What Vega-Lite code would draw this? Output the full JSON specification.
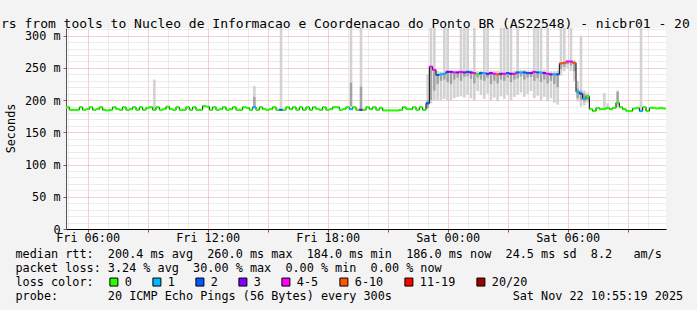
{
"$schema": "https://vega.github.io/schema/vega-lite/v6.json",
"width": 600, "height": 201,
"autosize": "none",
"padding": {"left": 66, "top": 28, "right": 31, "bottom": 81},
"background": "#f3f3f3",
"config": {"view": {"fill": "white", "stroke": null}, "font": "DejaVu Sans Mono"},
"title": {"text": "rs from tools to Nucleo de Informacao e Coordenacao do Ponto BR (AS22548) - nicbr01 - 20", "anchor": "start", "frame": "group", "dx": -65, "dy": 21, "offset": 4, "font": "DejaVu Sans Mono", "fontSize": 13, "fontWeight": "normal", "color": "#000", "baseline": "alphabetic"},
"datasets": {
"med": [
{"t":"2025-11-21T05:00","v":189,"l":"0"},{"t":"2025-11-21T05:10","v":185,"l":"0"},{"t":"2025-11-21T05:20","v":185,"l":"0"},{"t":"2025-11-21T05:30","v":185,"l":"0"},{"t":"2025-11-21T05:40","v":189,"l":"0"},{"t":"2025-11-21T05:50","v":185,"l":"0"},
{"t":"2025-11-21T06:00","v":186,"l":"0"},{"t":"2025-11-21T06:10","v":189,"l":"0"},{"t":"2025-11-21T06:20","v":185,"l":"0"},{"t":"2025-11-21T06:30","v":186,"l":"0"},{"t":"2025-11-21T06:40","v":189,"l":"0"},{"t":"2025-11-21T06:50","v":185,"l":"0"},
{"t":"2025-11-21T07:00","v":184,"l":"0"},{"t":"2025-11-21T07:10","v":185,"l":"0"},{"t":"2025-11-21T07:20","v":189,"l":"0"},{"t":"2025-11-21T07:30","v":186,"l":"0"},{"t":"2025-11-21T07:40","v":185,"l":"0"},{"t":"2025-11-21T07:50","v":189,"l":"0"},
{"t":"2025-11-21T08:00","v":185,"l":"0"},{"t":"2025-11-21T08:10","v":186,"l":"0"},{"t":"2025-11-21T08:20","v":189,"l":"0"},{"t":"2025-11-21T08:30","v":185,"l":"0"},{"t":"2025-11-21T08:40","v":189,"l":"0"},{"t":"2025-11-21T08:50","v":185,"l":"0"},
{"t":"2025-11-21T09:00","v":188,"l":"0"},{"t":"2025-11-21T09:10","v":189,"l":"0"},{"t":"2025-11-21T09:20","v":185,"l":"0"},{"t":"2025-11-21T09:30","v":189,"l":"0"},{"t":"2025-11-21T09:40","v":185,"l":"0"},{"t":"2025-11-21T09:50","v":186,"l":"0"},
{"t":"2025-11-21T10:00","v":190,"l":"0"},{"t":"2025-11-21T10:10","v":186,"l":"0"},{"t":"2025-11-21T10:20","v":185,"l":"0"},{"t":"2025-11-21T10:30","v":189,"l":"0"},{"t":"2025-11-21T10:40","v":185,"l":"0"},{"t":"2025-11-21T10:50","v":185,"l":"0"},
{"t":"2025-11-21T11:00","v":189,"l":"0"},{"t":"2025-11-21T11:10","v":185,"l":"0"},{"t":"2025-11-21T11:20","v":189,"l":"0"},{"t":"2025-11-21T11:30","v":185,"l":"0"},{"t":"2025-11-21T11:40","v":185,"l":"0"},{"t":"2025-11-21T11:50","v":191,"l":"0"},
{"t":"2025-11-21T12:00","v":190,"l":"0"},{"t":"2025-11-21T12:10","v":185,"l":"0"},{"t":"2025-11-21T12:20","v":189,"l":"0"},{"t":"2025-11-21T12:30","v":185,"l":"0"},{"t":"2025-11-21T12:40","v":186,"l":"0"},{"t":"2025-11-21T12:50","v":189,"l":"0"},
{"t":"2025-11-21T13:00","v":185,"l":"0"},{"t":"2025-11-21T13:10","v":186,"l":"0"},{"t":"2025-11-21T13:20","v":189,"l":"0"},{"t":"2025-11-21T13:30","v":185,"l":"0"},{"t":"2025-11-21T13:40","v":185,"l":"0"},{"t":"2025-11-21T13:50","v":189,"l":"0"},
{"t":"2025-11-21T14:00","v":188,"l":"0"},{"t":"2025-11-21T14:10","v":185,"l":"0"},{"t":"2025-11-21T14:20","v":189,"l":"1"},{"t":"2025-11-21T14:30","v":185,"l":"0"},{"t":"2025-11-21T14:40","v":189,"l":"0"},{"t":"2025-11-21T14:50","v":186,"l":"0"},
{"t":"2025-11-21T15:00","v":185,"l":"0"},{"t":"2025-11-21T15:10","v":186,"l":"0"},{"t":"2025-11-21T15:20","v":189,"l":"0"},{"t":"2025-11-21T15:30","v":185,"l":"0"},{"t":"2025-11-21T15:40","v":185,"l":"2"},{"t":"2025-11-21T15:50","v":185,"l":"0"},
{"t":"2025-11-21T16:00","v":189,"l":"0"},{"t":"2025-11-21T16:10","v":186,"l":"0"},{"t":"2025-11-21T16:20","v":189,"l":"0"},{"t":"2025-11-21T16:30","v":185,"l":"0"},{"t":"2025-11-21T16:40","v":189,"l":"0"},{"t":"2025-11-21T16:50","v":185,"l":"0"},
{"t":"2025-11-21T17:00","v":189,"l":"0"},{"t":"2025-11-21T17:10","v":185,"l":"0"},{"t":"2025-11-21T17:20","v":189,"l":"0"},{"t":"2025-11-21T17:30","v":186,"l":"0"},{"t":"2025-11-21T17:40","v":185,"l":"0"},{"t":"2025-11-21T17:50","v":189,"l":"0"},
{"t":"2025-11-21T18:00","v":185,"l":"0"},{"t":"2025-11-21T18:10","v":186,"l":"0"},{"t":"2025-11-21T18:20","v":189,"l":"0"},{"t":"2025-11-21T18:30","v":189,"l":"0"},{"t":"2025-11-21T18:40","v":185,"l":"0"},{"t":"2025-11-21T18:50","v":186,"l":"0"},
{"t":"2025-11-21T19:00","v":189,"l":"0"},{"t":"2025-11-21T19:10","v":186,"l":"1"},{"t":"2025-11-21T19:20","v":189,"l":"0"},{"t":"2025-11-21T19:30","v":185,"l":"0"},{"t":"2025-11-21T19:40","v":185,"l":"3"},{"t":"2025-11-21T19:50","v":185,"l":"0"},
{"t":"2025-11-21T20:00","v":189,"l":"0"},{"t":"2025-11-21T20:10","v":186,"l":"0"},{"t":"2025-11-21T20:20","v":189,"l":"0"},{"t":"2025-11-21T20:30","v":185,"l":"0"},{"t":"2025-11-21T20:40","v":188,"l":"0"},{"t":"2025-11-21T20:50","v":184,"l":"0"},
{"t":"2025-11-21T21:00","v":184,"l":"0"},{"t":"2025-11-21T21:10","v":184,"l":"0"},{"t":"2025-11-21T21:20","v":184,"l":"0"},{"t":"2025-11-21T21:30","v":184,"l":"0"},{"t":"2025-11-21T21:40","v":185,"l":"0"},{"t":"2025-11-21T21:50","v":189,"l":"0"},
{"t":"2025-11-21T22:00","v":186,"l":"0"},{"t":"2025-11-21T22:10","v":186,"l":"0"},{"t":"2025-11-21T22:20","v":189,"l":"0"},{"t":"2025-11-21T22:30","v":185,"l":"0"},{"t":"2025-11-21T22:40","v":189,"l":"0"},{"t":"2025-11-21T22:50","v":185,"l":"0"},
{"t":"2025-11-21T23:00","v":195,"l":"2"},{"t":"2025-11-21T23:10","v":252,"l":"4-5"},{"t":"2025-11-21T23:20","v":247,"l":"4-5"},{"t":"2025-11-21T23:30","v":239,"l":"2"},{"t":"2025-11-21T23:40","v":240,"l":"1"},{"t":"2025-11-21T23:50","v":241,"l":"1"},
{"t":"2025-11-22T00:00","v":244,"l":"3"},{"t":"2025-11-22T00:10","v":244,"l":"3"},{"t":"2025-11-22T00:20","v":243,"l":"4-5"},{"t":"2025-11-22T00:30","v":243,"l":"3"},{"t":"2025-11-22T00:40","v":244,"l":"4-5"},{"t":"2025-11-22T00:50","v":243,"l":"3"},
{"t":"2025-11-22T01:00","v":244,"l":"2"},{"t":"2025-11-22T01:10","v":243,"l":"3"},{"t":"2025-11-22T01:20","v":242,"l":"4-5"},{"t":"2025-11-22T01:30","v":240,"l":"0"},{"t":"2025-11-22T01:40","v":242,"l":"2"},{"t":"2025-11-22T01:50","v":242,"l":"1"},
{"t":"2025-11-22T02:00","v":241,"l":"3"},{"t":"2025-11-22T02:10","v":242,"l":"3"},{"t":"2025-11-22T02:20","v":241,"l":"4-5"},{"t":"2025-11-22T02:30","v":240,"l":"6-10"},{"t":"2025-11-22T02:40","v":241,"l":"3"},{"t":"2025-11-22T02:50","v":241,"l":"4-5"},
{"t":"2025-11-22T03:00","v":242,"l":"2"},{"t":"2025-11-22T03:10","v":241,"l":"3"},{"t":"2025-11-22T03:20","v":241,"l":"4-5"},{"t":"2025-11-22T03:30","v":243,"l":"2"},{"t":"2025-11-22T03:40","v":243,"l":"1"},{"t":"2025-11-22T03:50","v":243,"l":"2"},
{"t":"2025-11-22T04:00","v":242,"l":"2"},{"t":"2025-11-22T04:10","v":242,"l":"3"},{"t":"2025-11-22T04:20","v":244,"l":"4-5"},{"t":"2025-11-22T04:30","v":243,"l":"2"},{"t":"2025-11-22T04:40","v":243,"l":"1"},{"t":"2025-11-22T04:50","v":242,"l":"3"},
{"t":"2025-11-22T05:00","v":241,"l":"4-5"},{"t":"2025-11-22T05:10","v":240,"l":"3"},{"t":"2025-11-22T05:20","v":240,"l":"1"},{"t":"2025-11-22T05:30","v":240,"l":"2"},{"t":"2025-11-22T05:40","v":257,"l":"6-10"},{"t":"2025-11-22T05:50","v":258,"l":"6-10"},
{"t":"2025-11-22T06:00","v":260,"l":"4-5"},{"t":"2025-11-22T06:10","v":260,"l":"4-5"},{"t":"2025-11-22T06:20","v":258,"l":"6-10"},{"t":"2025-11-22T06:30","v":213,"l":"1"},{"t":"2025-11-22T06:40","v":210,"l":"2"},{"t":"2025-11-22T06:50","v":202,"l":"1"},
{"t":"2025-11-22T07:00","v":206,"l":"0"},{"t":"2025-11-22T07:10","v":186,"l":"0"},{"t":"2025-11-22T07:20","v":183,"l":"0"},{"t":"2025-11-22T07:30","v":188,"l":"0"},{"t":"2025-11-22T07:40","v":186,"l":"0"},{"t":"2025-11-22T07:50","v":186,"l":"0"},
{"t":"2025-11-22T08:00","v":188,"l":"0"},{"t":"2025-11-22T08:10","v":186,"l":"0"},{"t":"2025-11-22T08:20","v":188,"l":"0"},{"t":"2025-11-22T08:30","v":196,"l":"0"},{"t":"2025-11-22T08:40","v":189,"l":"0"},{"t":"2025-11-22T08:50","v":186,"l":"0"},
{"t":"2025-11-22T09:00","v":183,"l":"0"},{"t":"2025-11-22T09:10","v":183,"l":"0"},{"t":"2025-11-22T09:20","v":187,"l":"0"},{"t":"2025-11-22T09:30","v":188,"l":"0"},{"t":"2025-11-22T09:40","v":183,"l":"1"},{"t":"2025-11-22T09:50","v":189,"l":"0"},
{"t":"2025-11-22T10:00","v":183,"l":"0"},{"t":"2025-11-22T10:10","v":188,"l":"0"},{"t":"2025-11-22T10:20","v":188,"l":"0"},{"t":"2025-11-22T10:30","v":187,"l":"0"},{"t":"2025-11-22T10:40","v":188,"l":"0"},{"t":"2025-11-22T10:50","v":187,"l":"0"}
],
"smoke": [
{"t":"2025-11-21T09:20","v":185,"v2":232},{"t":"2025-11-21T14:20","v":188,"v2":222},{"t":"2025-11-21T15:40","v":185,"v2":312},{"t":"2025-11-21T19:10","v":190,"v2":312},{"t":"2025-11-21T19:40","v":186,"v2":312},
{"t":"2025-11-21T23:00","v":186,"v2":240},{"t":"2025-11-21T23:10","v":195,"v2":312},{"t":"2025-11-21T23:20","v":200,"v2":312},{"t":"2025-11-21T23:30","v":199,"v2":245},{"t":"2025-11-21T23:40","v":200,"v2":244},{"t":"2025-11-21T23:50","v":202,"v2":312},
{"t":"2025-11-22T00:00","v":200,"v2":312},{"t":"2025-11-22T00:10","v":199,"v2":246},{"t":"2025-11-22T00:20","v":203,"v2":246},{"t":"2025-11-22T00:30","v":205,"v2":246},{"t":"2025-11-22T00:40","v":206,"v2":312},{"t":"2025-11-22T00:50","v":204,"v2":312},
{"t":"2025-11-22T01:00","v":208,"v2":312},{"t":"2025-11-22T01:10","v":203,"v2":247},{"t":"2025-11-22T01:20","v":200,"v2":312},{"t":"2025-11-22T01:30","v":214,"v2":245},{"t":"2025-11-22T01:40","v":208,"v2":246},{"t":"2025-11-22T01:50","v":202,"v2":312},
{"t":"2025-11-22T02:00","v":210,"v2":312},{"t":"2025-11-22T02:10","v":200,"v2":246},{"t":"2025-11-22T02:20","v":204,"v2":246},{"t":"2025-11-22T02:30","v":198,"v2":246},{"t":"2025-11-22T02:40","v":206,"v2":312},{"t":"2025-11-22T02:50","v":202,"v2":312},
{"t":"2025-11-22T03:00","v":208,"v2":312},{"t":"2025-11-22T03:10","v":200,"v2":312},{"t":"2025-11-22T03:20","v":205,"v2":246},{"t":"2025-11-22T03:30","v":208,"v2":312},{"t":"2025-11-22T03:40","v":212,"v2":247},{"t":"2025-11-22T03:50","v":205,"v2":247},
{"t":"2025-11-22T04:00","v":210,"v2":246},{"t":"2025-11-22T04:10","v":214,"v2":246},{"t":"2025-11-22T04:20","v":203,"v2":312},{"t":"2025-11-22T04:30","v":207,"v2":312},{"t":"2025-11-22T04:40","v":200,"v2":312},{"t":"2025-11-22T04:50","v":205,"v2":247},
{"t":"2025-11-22T05:00","v":198,"v2":312},{"t":"2025-11-22T05:10","v":203,"v2":245},{"t":"2025-11-22T05:20","v":196,"v2":245},{"t":"2025-11-22T05:30","v":193,"v2":246},{"t":"2025-11-22T05:40","v":238,"v2":312},{"t":"2025-11-22T05:50","v":245,"v2":312},
{"t":"2025-11-22T06:00","v":250,"v2":262},{"t":"2025-11-22T06:10","v":245,"v2":312},{"t":"2025-11-22T06:20","v":230,"v2":262},{"t":"2025-11-22T06:30","v":198,"v2":230},{"t":"2025-11-22T06:40","v":190,"v2":300},{"t":"2025-11-22T06:50","v":192,"v2":215},
{"t":"2025-11-22T07:00","v":196,"v2":212},{"t":"2025-11-22T07:50","v":186,"v2":211},{"t":"2025-11-22T08:00","v":186,"v2":195},{"t":"2025-11-22T08:30","v":190,"v2":215},{"t":"2025-11-22T09:40","v":183,"v2":312}
],
"dsmoke": [
{"t":"2025-11-21T14:20","v":188,"v2":205},{"t":"2025-11-21T19:10","v":190,"v2":227},{"t":"2025-11-21T19:40","v":186,"v2":221},
{"t":"2025-11-21T23:00","v":188,"v2":200},{"t":"2025-11-21T23:10","v":200,"v2":252},{"t":"2025-11-21T23:20","v":215,"v2":247},{"t":"2025-11-21T23:30","v":225,"v2":240},{"t":"2025-11-21T23:40","v":230,"v2":241},{"t":"2025-11-21T23:50","v":232,"v2":242},
{"t":"2025-11-22T00:00","v":228,"v2":244},{"t":"2025-11-22T00:10","v":225,"v2":244},{"t":"2025-11-22T00:20","v":232,"v2":243},{"t":"2025-11-22T00:30","v":235,"v2":243},{"t":"2025-11-22T00:40","v":230,"v2":244},{"t":"2025-11-22T00:50","v":236,"v2":243},
{"t":"2025-11-22T01:00","v":237,"v2":244},{"t":"2025-11-22T01:10","v":233,"v2":243},{"t":"2025-11-22T01:20","v":226,"v2":242},{"t":"2025-11-22T01:30","v":235,"v2":240},{"t":"2025-11-22T01:40","v":232,"v2":242},{"t":"2025-11-22T01:50","v":230,"v2":242},
{"t":"2025-11-22T02:00","v":235,"v2":241},{"t":"2025-11-22T02:10","v":225,"v2":242},{"t":"2025-11-22T02:20","v":230,"v2":241},{"t":"2025-11-22T02:30","v":226,"v2":240},{"t":"2025-11-22T02:40","v":232,"v2":241},{"t":"2025-11-22T02:50","v":230,"v2":241},
{"t":"2025-11-22T03:00","v":235,"v2":242},{"t":"2025-11-22T03:10","v":228,"v2":241},{"t":"2025-11-22T03:20","v":232,"v2":241},{"t":"2025-11-22T03:30","v":234,"v2":243},{"t":"2025-11-22T03:40","v":237,"v2":243},{"t":"2025-11-22T03:50","v":232,"v2":243},
{"t":"2025-11-22T04:00","v":235,"v2":242},{"t":"2025-11-22T04:10","v":236,"v2":242},{"t":"2025-11-22T04:20","v":230,"v2":244},{"t":"2025-11-22T04:30","v":234,"v2":243},{"t":"2025-11-22T04:40","v":228,"v2":243},{"t":"2025-11-22T04:50","v":232,"v2":242},
{"t":"2025-11-22T05:00","v":226,"v2":241},{"t":"2025-11-22T05:10","v":230,"v2":240},{"t":"2025-11-22T05:20","v":225,"v2":240},{"t":"2025-11-22T05:30","v":220,"v2":240},{"t":"2025-11-22T05:40","v":248,"v2":258},{"t":"2025-11-22T05:50","v":252,"v2":259},
{"t":"2025-11-22T06:00","v":256,"v2":260},{"t":"2025-11-22T06:10","v":254,"v2":260},{"t":"2025-11-22T06:20","v":245,"v2":258},{"t":"2025-11-22T06:30","v":203,"v2":218},{"t":"2025-11-22T06:40","v":200,"v2":215},{"t":"2025-11-22T06:50","v":198,"v2":210},
{"t":"2025-11-22T07:00","v":200,"v2":208},{"t":"2025-11-22T08:30","v":196,"v2":213}
]
},
"encoding": {
 "x": {"field": "t", "type": "temporal",
  "scale": {"domain": [{"year": 2025, "month": 11, "date": 21, "hours": 4, "minutes": 55}, {"year": 2025, "month": 11, "date": 22, "hours": 10, "minutes": 55}]},
  "axis": {
   "values": [
    {"year":2025,"month":11,"date":21,"hours":5},{"year":2025,"month":11,"date":21,"hours":6},{"year":2025,"month":11,"date":21,"hours":7},{"year":2025,"month":11,"date":21,"hours":8},{"year":2025,"month":11,"date":21,"hours":9},{"year":2025,"month":11,"date":21,"hours":10},
    {"year":2025,"month":11,"date":21,"hours":11},{"year":2025,"month":11,"date":21,"hours":12},{"year":2025,"month":11,"date":21,"hours":13},{"year":2025,"month":11,"date":21,"hours":14},{"year":2025,"month":11,"date":21,"hours":15},{"year":2025,"month":11,"date":21,"hours":16},
    {"year":2025,"month":11,"date":21,"hours":17},{"year":2025,"month":11,"date":21,"hours":18},{"year":2025,"month":11,"date":21,"hours":19},{"year":2025,"month":11,"date":21,"hours":20},{"year":2025,"month":11,"date":21,"hours":21},{"year":2025,"month":11,"date":21,"hours":22},
    {"year":2025,"month":11,"date":21,"hours":23},{"year":2025,"month":11,"date":22,"hours":0},{"year":2025,"month":11,"date":22,"hours":1},{"year":2025,"month":11,"date":22,"hours":2},{"year":2025,"month":11,"date":22,"hours":3},{"year":2025,"month":11,"date":22,"hours":4},
    {"year":2025,"month":11,"date":22,"hours":5},{"year":2025,"month":11,"date":22,"hours":6},{"year":2025,"month":11,"date":22,"hours":7},{"year":2025,"month":11,"date":22,"hours":8},{"year":2025,"month":11,"date":22,"hours":9},{"year":2025,"month":11,"date":22,"hours":10}
   ],
   "labelExpr": "hours(datum.value) % 6 == 0 ? timeFormat(datum.value, '%a %H:%M') : ''",
   "labelFont": "DejaVu Sans Mono", "labelFontSize": 11.8, "labelColor": "#000", "labelPadding": 0,
   "labelOverlap": false, "labelFlush": false, "labelBound": false,
   "gridColor": {"condition": {"test": "hours(datum.value) % 3 == 0", "value": "#e6a3a3"}, "value": "#d8d8d8"},
   "gridDash": [1, 1], "gridWidth": 1,
   "tickColor": {"condition": {"test": "hours(datum.value) % 3 == 0", "value": "#c04040"}, "value": "transparent"},
   "tickSize": 3, "domainColor": "#000", "domainWidth": 1,
   "title": ["median rtt:\u00a0\u00a0200.4 ms avg\u00a0\u00a0260.0 ms max\u00a0\u00a0184.0 ms min\u00a0\u00a0186.0 ms now\u00a0\u00a024.5 ms sd\u00a0\u00a08.2\u00a0\u00a0\u00a0am/s",
             "packet loss: 3.24 % avg\u00a0\u00a030.00 % max\u00a0\u00a00.00 % min\u00a0\u00a00.00 % now",
             "loss color:",
             "probe:\u00a0\u00a0\u00a0\u00a0\u00a0\u00a0\u00a020 ICMP Echo Pings (56 Bytes) every 300s\u00a0\u00a0\u00a0\u00a0\u00a0\u00a0\u00a0\u00a0\u00a0\u00a0\u00a0\u00a0\u00a0\u00a0\u00a0\u00a0\u00a0Sat Nov 22 10:55:19 2025"],
   "titleFont": "DejaVu Sans Mono", "titleFontSize": 11.8, "titleFontWeight": "normal", "titleColor": "#000",
   "titleAnchor": "start", "titleAlign": "left", "titleBaseline": "top", "titleX": -51, "titleY": 19, "titleLineHeight": 14.3
  }},
 "y": {"field": "v", "type": "quantitative",
  "scale": {"domain": [0, 312], "nice": false, "zero": true},
  "axis": {
   "values": [0,10,20,30,40,50,60,70,80,90,100,110,120,130,140,150,160,170,180,190,200,210,220,230,240,250,260,270,280,290,300,310],
   "labelExpr": "datum.value % 50 == 0 ? (datum.value == 0 ? '0' : datum.value + ' m') : ''",
   "labelFont": "DejaVu Sans Mono", "labelFontSize": 11.8, "labelColor": "#000", "labelPadding": 3, "labelOverlap": false, "labelFlush": false,
   "gridColor": {"condition": {"test": "datum.value % 50 == 0", "value": "#e6a3a3"}, "value": "#d8d8d8"},
   "gridDash": [1, 1], "gridWidth": 1,
   "tickColor": {"condition": {"test": "datum.value % 50 == 0", "value": "#c04040"}, "value": "transparent"},
   "tickSize": 3, "domainColor": "#555",
   "title": "Seconds", "titleFont": "DejaVu Sans Mono", "titleFontSize": 11.8, "titleFontWeight": "normal", "titleColor": "#000",
   "titleAngle": -90, "titleX": -56, "titleY": 100, "titleAlign": "center", "titleBaseline": "middle"
  }}
},
"layer": [
{"data": {"name": "smoke"},
 "mark": {"type": "rule", "color": "#d2d2d2", "strokeWidth": 2.6, "clip": true},
 "encoding": {"y2": {"field": "v2"}}},
{"data": {"name": "dsmoke"},
 "mark": {"type": "rule", "color": "#a3a3a3", "strokeWidth": 2.4, "clip": true},
 "encoding": {"y2": {"field": "v2"}}},
{"data": {"name": "med"},
 "mark": {"type": "line", "interpolate": "step", "color": "#000", "strokeWidth": 1, "clip": true},
 "encoding": {}},
{"data": {"name": "med"},
 "mark": {"type": "tick", "orient": "horizontal", "size": 3.6, "thickness": 2, "opacity": 1, "clip": true},
 "encoding": {
  "color": {"field": "l", "type": "nominal",
   "scale": {"domain": ["0","1","2","3","4-5","6-10","11-19","20/20"], "range": ["#26ff00","#00b8ff","#0059ff","#7e00ff","#ff00ff","#ff5500","#ff0000","#a10000"]},
   "legend": {"orient": "none", "legendX": 42, "legendY": 248, "direction": "horizontal", "title": null, "padding": 0,
    "symbolType": "square", "symbolSize": 64, "symbolStrokeColor": "#000", "symbolStrokeWidth": 1, "symbolOpacity": 1,
    "labelFont": "DejaVu Sans Mono", "labelFontSize": 11.8, "labelColor": "#000", "labelOffset": 5, "columnPadding": 18}}
 }}
]
}
